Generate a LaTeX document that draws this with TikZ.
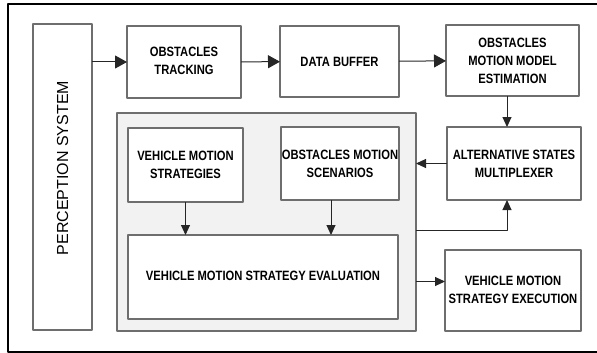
\documentclass[tikz,border=0pt]{standalone}
\usepackage{fontspec}
\setmainfont{Liberation Sans}
\newfontfamily\narrowfont[FakeStretch=0.83]{Liberation Sans}
\usetikzlibrary{arrows.meta}
\definecolor{boxline}{HTML}{6E6E6E}
\definecolor{panelfill}{HTML}{F2F2F2}
\newcommand{\lifted}[2]{\raisebox{#1}{\begin{tabular}{@{}c@{}}#2\end{tabular}}}
\begin{document}
\begin{tikzpicture}[x=1pt, y=-1pt, line join=round,
		>={Triangle[length=10pt,width=9pt]},
		blk/.style={draw=boxline, line width=1.1pt, fill=white, inner sep=0pt, outer sep=0pt, align=center,
			font=\narrowfont\bfseries\fontsize{13.5}{18}\selectfont},
		panelbox/.style={draw=boxline, line width=1.1pt, fill=panelfill, inner sep=0pt, outer sep=0pt},
		link/.style={->, line width=1pt, draw=black!85},
		biglink/.style={link, -{Triangle[length=12pt,width=13pt]}}]
	\useasboundingbox (0,0) rectangle (597,353);
	\draw[line width=1.8pt] (8,4) rectangle (610,352);
	% shaded group
	\node[panelbox, minimum width=299, minimum height=218] (panel) at (266.5,222) {};
	\node[blk, minimum width=59, minimum height=306] (percep) at (62.5,177)
		{\rotatebox{90}{\hspace*{18pt}\fontsize{16}{18}\mdseries\setmainfont{Liberation Sans}\selectfont PERCEPTION SYSTEM}};
	\node[blk, minimum width=114, minimum height=72] (track) at (184,62) {\lifted{4pt}{OBSTACLES\\TRACKING}};
	\node[blk, minimum width=119, minimum height=71] (buffer) at (339.5,61.5) {DATA BUFFER};
	\node[blk, minimum width=133, minimum height=71] (estim) at (512.5,60.5) {OBSTACLES\\MOTION MODEL\\ESTIMATION};
	\node[blk, minimum width=134, minimum height=73] (mux) at (514,163.5) {ALTERNATIVE STATES\\MULTIPLEXER};
	\node[blk, minimum width=115, minimum height=74] (strat) at (185.5,165) {VEHICLE MOTION\\STRATEGIES};
	\node[blk, minimum width=118, minimum height=73] (scen) at (340,163.5) {OBSTACLES MOTION\\SCENARIOS};
	\node[blk, minimum width=270, minimum height=84] (eval) at (263,277) {\lifted{4pt}{VEHICLE MOTION STRATEGY EVALUATION}};
	\node[blk, minimum width=136, minimum height=81] (exec) at (513,290.5) {\lifted{6pt}{VEHICLE MOTION\\STRATEGY EXECUTION}};
	\coordinate (scenout) at ([xshift=-9pt]scen.south);
	\coordinate (muxin) at ([xshift=-7pt]mux.south);
	\coordinate (execin) at ([yshift=9pt]exec.west);
	\draw[biglink] (percep.east |- track.west)--(track.west);
	\draw[biglink] (track)--(buffer);
	\draw[biglink] (buffer)--(estim);
	\draw[link] (estim.south -| muxin)--(muxin |- mux.north);
	\draw[link] (mux.west)--(mux.west -| panel.east);
	\draw[link] (strat.south)--(strat.south |- eval.north);
	\draw[link] (scenout)--(scenout |- eval.north);
	\draw[link] ([yshift=-8pt]panel.east) -| (muxin);
	\draw[link] (panel.east |- execin)--(execin);
\end{tikzpicture}
\end{document}
